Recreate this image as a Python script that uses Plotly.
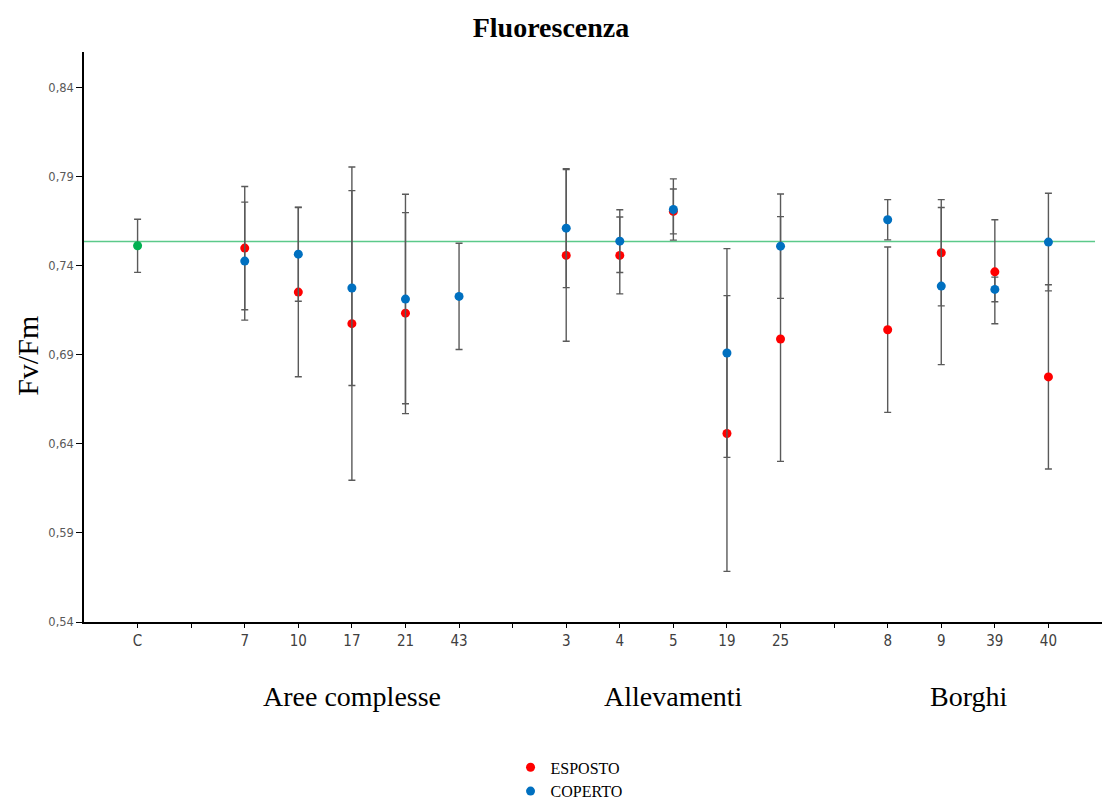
import plotly.graph_objects as go

# ---- data ----
categories = ["C", "", "7", "10", "17", "21", "43", "", "3", "4", "5", "19", "25", "", "8", "9", "39", "40"]
group_names = ["Aree complesse", "Allevamenti", "Borghi"]
group_members = [["7", "10", "17", "21", "43"], ["3", "4", "5", "19", "25"], ["8", "9", "39", "40"]]

control_site = ["C"]
control_mean = [0.7512]
control_err = [0.0149]

esposto_sites = ["7", "10", "17", "21", "3", "4", "5", "19", "25", "8", "9", "39", "40"]
esposto_mean = [0.7499, 0.7252, 0.7075, 0.7134, 0.7458, 0.7458, 0.7705, 0.6458, 0.6989, 0.7041, 0.7473, 0.7366, 0.6776]
esposto_err = [0.0346, 0.0475, 0.0879, 0.0564, 0.0482, 0.0216, 0.0126, 0.0774, 0.0687, 0.0464, 0.0298, 0.0292, 0.0517]

coperto_sites = ["7", "10", "17", "21", "43", "3", "4", "5", "19", "25", "8", "9", "39", "40"]
coperto_mean = [0.7426, 0.7465, 0.7275, 0.7213, 0.7228, 0.7611, 0.7538, 0.7716, 0.6910, 0.7510, 0.7658, 0.7286, 0.7267, 0.7533]
coperto_err = [0.0331, 0.0264, 0.0547, 0.0588, 0.0298, 0.0334, 0.0176, 0.0172, 0.0586, 0.0293, 0.0113, 0.0441, 0.0069, 0.0274]

reference_value = 0.7536

y_ticks = [0.54, 0.59, 0.64, 0.69, 0.74, 0.79, 0.84]
y_title = "Fv/Fm"

pos = {c: i for i, c in enumerate(categories) if c}
def xs(sites):
    return [pos[s] for s in sites]

ERR_COLOR = "#5a5a5a"
SERIF = "Liberation Serif, Times New Roman, serif"

def err(vals):
    return dict(type="data", array=vals, visible=True, color=ERR_COLOR, thickness=1.4, width=3.5)

fig = go.Figure()
fig.add_trace(go.Scatter(x=xs(control_site), y=control_mean, mode="markers", showlegend=False,
                         marker=dict(color="#00B050", size=9), error_y=err(control_err)))
fig.add_trace(go.Scatter(x=xs(esposto_sites), y=esposto_mean, mode="markers", name="ESPOSTO",
                         marker=dict(color="#FF0000", size=9), error_y=err(esposto_err)))
fig.add_trace(go.Scatter(x=xs(coperto_sites), y=coperto_mean, mode="markers", name="COPERTO",
                         marker=dict(color="#0070C0", size=9), error_y=err(coperto_err)))

fig.add_shape(type="line", xref="x", yref="y", x0=-1, x1=17.87, y0=reference_value, y1=reference_value,
              line=dict(color="#5CC98A", width=1.5), layer="below")

for name, members in zip(group_names, group_members):
    p = [pos[m] for m in members]
    fig.add_annotation(x=(min(p) + max(p)) / 2, y=-0.131, xref="x", yref="paper", text=name,
                       showarrow=False, yanchor="middle",
                       font=dict(family=SERIF, size=28, color="#000000"))

fig.add_annotation(x=-0.055, y=0.467, xref="paper", yref="paper", text=y_title, textangle=-90,
                   showarrow=False, xanchor="center", yanchor="middle",
                   font=dict(family=SERIF, size=30, color="#000000"))

fig.update_layout(
    width=1102, height=800,
    margin=dict(l=84, r=0, t=52, b=177.5, autoexpand=False),
    paper_bgcolor="white", plot_bgcolor="white",
    separators=",.",
    title=dict(text="<b>Fluorescenza</b>", x=0.5, xref="container", xanchor="center",
               y=0.966, yref="container", yanchor="middle",
               font=dict(family=SERIF, size=28, color="#000000")),
    showlegend=True,
    legend=dict(x=0.419, y=0.062, xref="paper", yref="container", xanchor="left", yanchor="top",
                orientation="v", font=dict(family=SERIF, size=16, color="#000000"),
                itemwidth=30, tracegroupgap=0, bgcolor="rgba(0,0,0,0)"),
)

fig.update_xaxes(range=[-1, 18], tickmode="array", tickvals=list(range(len(categories))), ticktext=categories,
                 showline=True, linecolor="#000000", linewidth=1.5, showgrid=False, zeroline=False,
                 ticks="outside", ticklen=4, tickcolor="#000000", tickwidth=1,
                 tickfont=dict(family="DejaVu Sans Condensed, DejaVu Sans, sans-serif", size=15, color="#404040"))
fig.update_yaxes(range=[0.54, 0.86], tickmode="array", tickvals=y_ticks, tickformat=".2f",
                 showline=True, linecolor="#000000", linewidth=1.5, showgrid=False, zeroline=False,
                 ticks="outside", ticklen=6, tickcolor="#000000", tickwidth=1,
                 tickfont=dict(family="DejaVu Sans, Verdana, sans-serif", size=11.5, color="#595959"))

fig.write_html("out.html")
